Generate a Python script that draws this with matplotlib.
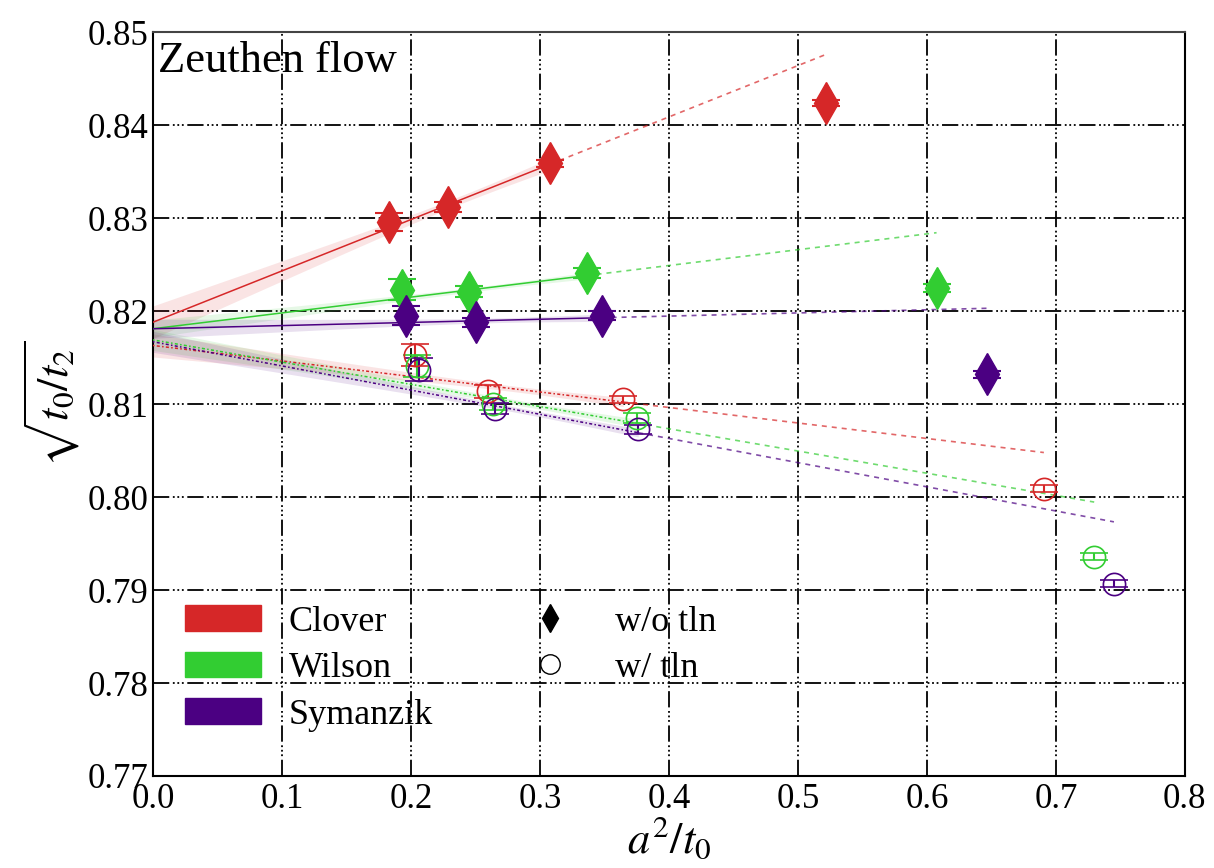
import numpy as np
import matplotlib
matplotlib.use("Agg")
import matplotlib.pyplot as plt
from matplotlib.patches import Patch
from matplotlib.lines import Line2D

plt.rcParams['font.family'] = ['Liberation Serif', 'DejaVu Serif']
plt.rcParams['mathtext.fontset'] = 'stix'

# actions and their colours
actions = ['Clover', 'Wilson', 'Symanzik']
colors = ['#d62728', '#32cd32', '#4b0082']

# w/o tree-level normalisation (diamonds)
a2_wo = [
    [0.1832, 0.2289, 0.3078, 0.5217],
    [0.1928, 0.2452, 0.3362, 0.6075],
    [0.1961, 0.2504, 0.3478, 0.6463],
]
y_wo = [
    [0.8296, 0.8312, 0.8359, 0.8424],
    [0.8223, 0.8221, 0.8241, 0.8225],
    [0.8195, 0.8188, 0.8195, 0.8132],
]
err_wo = [
    [0.0010, 0.0005, 0.0004, 0.0003],
    [0.0011, 0.0006, 0.0005, 0.0004],
    [0.0010, 0.0005, 0.0005, 0.0004],
]

# w/ tree-level normalisation (open circles)
a2_tln = [
    [0.2031, 0.2600, 0.3646, 0.6907],
    [0.2049, 0.2638, 0.3749, 0.7297],
    [0.2064, 0.2651, 0.3762, 0.7450],
]
y_tln = [
    [0.8153, 0.8114, 0.8105, 0.8009],
    [0.8141, 0.8100, 0.8085, 0.7936],
    [0.8137, 0.8095, 0.8073, 0.7907],
]
err_tln = [
    [0.0012, 0.0007, 0.0004, 0.0004],
    [0.0012, 0.0006, 0.0005, 0.0004],
    [0.0012, 0.0006, 0.0005, 0.0004],
]

# linear continuum fits
fit_int_wo = [0.8188, 0.8181, 0.8181]
fit_slope_wo = [0.0552, 0.0170, 0.0034]
fit_err_wo = [0.0017, 0.0009, 0.0010]
fit_int_tln = [0.8163, 0.8169, 0.8167]
fit_slope_tln = [-0.01667, -0.0239, -0.0260]
fit_err_tln = [0.0012, 0.0011, 0.0011]

n_fit = 3  # points used in the fit


def draw_fit(ax, a2, intercept, slope, err0, color, fit_ls):
    x_end = a2[n_fit - 1]
    xs = np.linspace(0, x_end, 100)
    ys = intercept + slope * xs
    xc = np.mean(a2[:n_fit])
    sig = np.sqrt((err0 * (1 - xs / xc)) ** 2 + (0.25 * err0) ** 2)
    ax.fill_between(xs, ys - sig, ys + sig, color=color, alpha=0.12, lw=0, zorder=2)
    ax.plot(xs, ys, color=color, lw=1.1, ls=fit_ls, zorder=3)
    xe = np.array([x_end, a2[-1]])
    ax.plot(xe, intercept + slope * xe, color=color, lw=1.2, ls=(0, (3, 3)), alpha=0.7, zorder=3)


fig = plt.figure(figsize=(12.14, 8.68), dpi=100)
ax = fig.add_axes([0.126, 0.106, 0.850, 0.857])

for i, c in enumerate(colors):
    draw_fit(ax, a2_wo[i], fit_int_wo[i], fit_slope_wo[i], fit_err_wo[i], c, '-')
    draw_fit(ax, a2_tln[i], fit_int_tln[i], fit_slope_tln[i], fit_err_tln[i], c, (0, (1, 1.5, 2, 1.5)))

    ax.errorbar(a2_wo[i], y_wo[i], yerr=err_wo[i], fmt='d', color=c, ms=21,
                mec=c, mfc=c, capsize=10, elinewidth=1.5, capthick=1.5, zorder=5)
    ax.errorbar(a2_tln[i], y_tln[i], yerr=err_tln[i], fmt='o', color=c, ms=16,
                mec=c, mfc='none', mew=1.2, capsize=10, elinewidth=1.5, capthick=1.5, zorder=5)

ax.set_xlim(0, 0.8)
ax.set_ylim(0.77, 0.85)
ax.set_xticks(np.arange(0, 0.81, 0.1))
ax.set_yticks(np.arange(0.77, 0.851, 0.01))
ax.xaxis.set_major_formatter(matplotlib.ticker.FormatStrFormatter('%.1f'))
ax.yaxis.set_major_formatter(matplotlib.ticker.FormatStrFormatter('%.2f'))
ax.tick_params(labelsize=25, length=0, pad=3)
ax.tick_params(axis='x', pad=5)

ax.grid(True, color='black', lw=1.3, ls=(0, (9, 2, 1, 1.5, 1, 1.5, 1, 2)), zorder=1)
ax.set_axisbelow(True)
for s in ax.spines.values():
    s.set_linewidth(1.5)
ax.spines['top'].set_color('#444444')

ax.set_xlabel(r'$a^2/t_0$', fontsize=32, labelpad=0)
ax.set_ylabel(r'$\sqrt{t_0/t_2}$', fontsize=32, labelpad=4)

ax.text(0.005, 0.988, 'Zeuthen flow', transform=ax.transAxes, fontsize=32,
        va='top', ha='left')

handles = [Patch(facecolor=c, edgecolor=c) for c in colors]
handles += [Line2D([], [], marker='d', color='black', ls='none', ms=14),
            Line2D([], [], marker='o', mec='black', mfc='none', ls='none', ms=14, mew=1)]
labels = actions + ['w/o tln', 'w/ tln']
ax.legend(handles, labels, loc='lower left', bbox_to_anchor=(0.0, 0.016), ncol=2,
          frameon=False, fontsize=26, handlelength=2.1, handleheight=0.72,
          columnspacing=2.2, labelspacing=0.36, handletextpad=0.75)

fig.savefig('out.png', dpi=100)
